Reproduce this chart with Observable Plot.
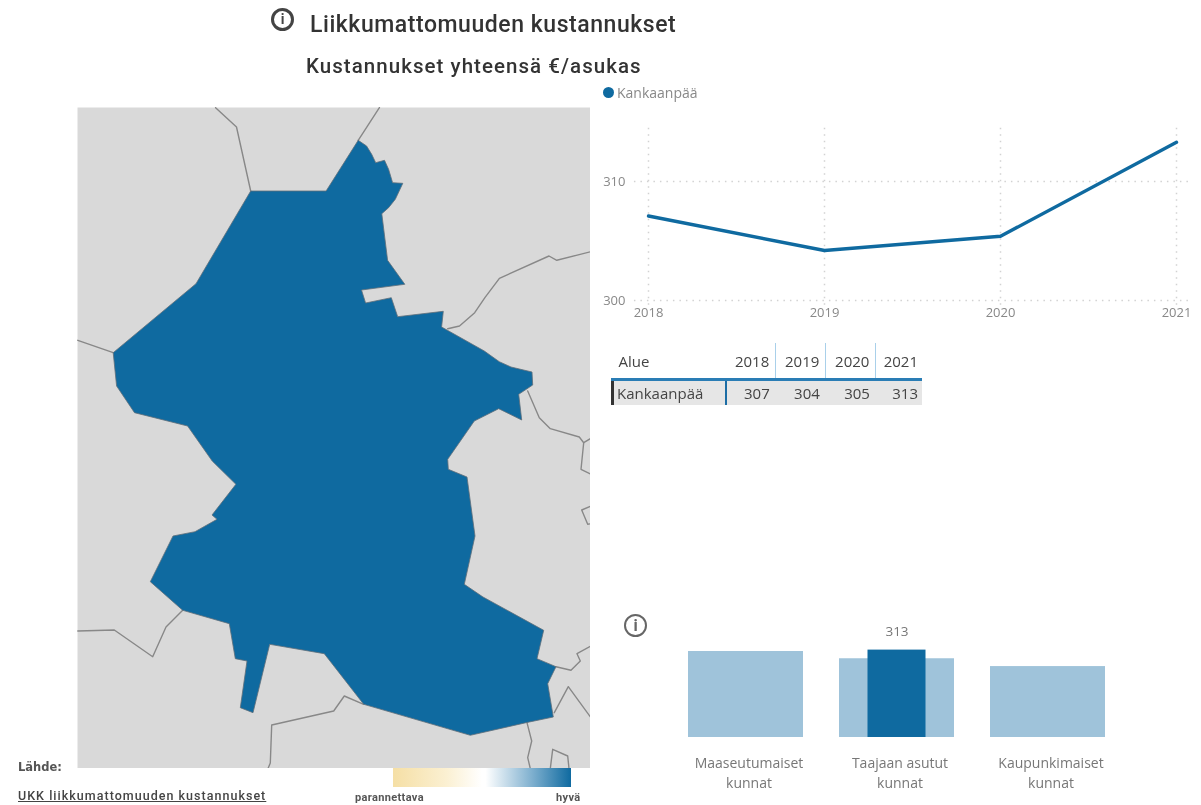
<!DOCTYPE html>
<html lang="fi">
<head>
<meta charset="utf-8">
<script src="https://cdn.jsdelivr.net/npm/d3@7"></script>
<script src="https://cdn.jsdelivr.net/npm/@observablehq/plot@0.6"></script>
<style>
html,body{margin:0;padding:0;background:#fff;overflow:hidden}
#page{position:relative;width:1201px;height:805px;filter:blur(0.75px);font-family:"Open Sans",sans-serif;color:#555}
.abs{position:absolute;white-space:nowrap}
.abs svg{display:block;background:transparent}
.icon{position:absolute;box-sizing:border-box;border-radius:50%;text-align:center;font-family:"Roboto",sans-serif;font-weight:700}
table{position:absolute;left:611px;top:343px;border-collapse:collapse;table-layout:fixed;width:311px;font-size:15px;color:#444}
th,td{font-weight:400;padding:0 6px 0 0;text-align:right;overflow:hidden}
th:last-child,td:last-child{padding-right:4px}
thead th{height:35px;border-bottom:3px solid #2a7db5;border-right:1.5px solid #a9d0ea}
thead th:first-child,thead th:last-child{border-right:none}
thead th:first-child{text-align:left;padding-left:6px}
tbody td{height:24px;background:#e6e6e6}
tbody td:first-child{text-align:left;padding-left:3px;border-left:3px solid #333;border-right:2px solid #1c6da5}
</style>
</head>
<body>
<div id="page">
  <div class="icon" style="left:271px;top:8px;width:23px;height:23px;border:3px solid #444;color:#444;font-size:14px;line-height:17px">i</div>
  <div class="abs" style="left:310px;top:10px;font:500 23px/30px Roboto,sans-serif;letter-spacing:.55px;color:#333" id="title"></div>
  <div class="abs" style="left:306px;top:52px;font:500 20.5px/28px Roboto,sans-serif;letter-spacing:1.05px;color:#333" id="subtitle"></div>
  <div class="abs" id="map" style="left:76.5px;top:106.5px"></div>
  <div class="abs" style="left:602.5px;top:87px;width:11px;height:11px;border-radius:50%;background:#0f6aa0"></div>
  <div class="abs" id="legendName" style="left:617px;top:84px;font-size:14px;line-height:18px;color:#888"></div>
  <div class="abs" id="lines" style="left:600px;top:110px"></div>
  <table id="tbl"></table>
  <div class="icon" style="left:624px;top:614px;width:23px;height:23px;border:2px solid #666;color:#666;font-size:16px;line-height:19px">i</div>
  <div class="abs" id="bars" style="left:640px;top:620px"></div>
  <div class="abs" id="source" style="left:18px;top:759px;font:700 11.5px/16px 'DejaVu Sans',sans-serif;color:#555"></div>
  <a class="abs" id="link" style="left:18px;top:788px;font:500 12.5px/16px Roboto,sans-serif;letter-spacing:1.02px;color:#444;text-decoration:underline"></a>
  <div class="abs" style="left:393px;top:768px;width:178px;height:19px;background:linear-gradient(90deg,#f5dfa5 0%,#fbf0d2 30%,#ffffff 50%,#ffffff 52%,#7fb0cf 78%,#0f6aa0 100%)"></div>
  <div class="abs" id="lowLabel" style="left:355px;top:791px;font:700 11px/14px Roboto,sans-serif;letter-spacing:.35px;color:#555"></div>
  <div class="abs" id="highLabel" style="left:556px;top:791px;font:700 11px/14px Roboto,sans-serif;letter-spacing:.35px;color:#555"></div>
</div>
<script>
// Text
const titleText = "Liikkumattomuuden kustannukset";
const subtitleText = "Kustannukset yhteensä €/asukas";
const areaName = "Kankaanpää";
const sourceText = "Lähde:";
const linkText = "UKK liikkumattomuuden kustannukset";
const scaleLabels = ["parannettava", "hyvä"];

// Yearly series
const years = [2018, 2019, 2020, 2021];
const costs = [307.1, 304.2, 305.4, 313.3];
const costsRounded = [307, 304, 305, 313];

// Municipality-type comparison
const groups = ["Maaseutumaiset\nkunnat", "Taajaan asutut\nkunnat", "Kaupunkimaiset\nkunnat"];
const groupCosts = [308, 282, 254];
const selectedGroup = "Taajaan asutut\nkunnat";
const selectedCost = 313;

// Map geometry, in the map's own units
const municipalityOutline = [[357.2,139.3],[365.6,145],[370.7,153.3],[374.7,161.7],[383.5,159.3],[387.6,168.3],[391.6,181.7],[401.8,182.3],[394.3,198.3],[387.6,206.7],[380.8,212.7],[384.2,240],[386.6,259.3],[403.8,283.3],[360.5,289],[364.6,302],[390.3,296.7],[396.7,315.7],[442.3,310.3],[440.6,326],[483.3,350],[498.3,360.7],[510,366],[531,371],[531.7,384],[517.7,393.3],[520.7,419],[497.7,407.7],[473.3,420],[446.7,458.3],[447.3,468.3],[466,476],[474,535],[463.3,583.3],[482,596],[542.7,629.3],[536,657.7],[555,665.7],[546.7,682.7],[552.3,716],[525,721.7],[469.3,734.3],[362.7,703.3],[323.3,652.7],[268.7,643.3],[252,711.7],[239.3,706.7],[246,660],[234.3,657.7],[228.3,622.7],[181.7,609.3],[149.3,580.7],[172,535],[194,530.7],[216,518.3],[211,514],[234.9,483.3],[211.2,460],[186.6,425],[133.5,411.7],[115.6,385],[112.2,351.7],[195,282.7],[249.7,190],[325.1,190],[357.2,139.3]];
const neighbourBorders = [
  [[214.6,106.7],[235.5,126],[249.7,190]],
  [[378.4,106.7],[357.2,139.3]],
  [[76.8,339.3],[112.2,351.7]],
  [[446.7,327.7],[458.5,325],[473.7,311.7],[483.9,296.7],[498.4,277.3],[548,255],[555.8,259.3],[589.6,250.7]],
  [[526.7,390],[538.3,416.7],[549.3,427.7],[578.3,436],[582.7,441.7],[590,437.3]],
  [[582.7,441.7],[580,468.3],[590,473.3]],
  [[590,505],[580.7,509],[586.7,523.3],[590,522.7]],
  [[181.7,609.3],[165,626],[151.7,655.7],[113.3,629],[76.8,630]],
  [[362.7,703.3],[343.3,695],[332.7,710],[270.7,724],[269.3,762],[266,770]],
  [[526,721.7],[530.7,740],[526.7,756.7],[529.3,767.5]],
  [[549.3,767.5],[551.7,748.3],[566.7,755],[568,767.5]],
  [[553.3,711.7],[567.3,685.7],[590,716.7]],
  [[555,665.7],[570,669.3],[579.3,660],[576,652.7],[590,645]]
];

const BLUE = "#0f6aa0", LIGHT = "#9fc3da", GREY = "#d9d9d9", EDGE = "#888888";
const px = d => d[0], py = d => d[1];

document.getElementById("title").textContent = titleText;
document.getElementById("subtitle").textContent = subtitleText;
document.getElementById("legendName").textContent = areaName;
document.getElementById("source").textContent = sourceText;
document.getElementById("link").textContent = linkText;
document.getElementById("lowLabel").textContent = scaleLabels[0];
document.getElementById("highLabel").textContent = scaleLabels[1];

// Map
document.getElementById("map").append(Plot.plot({
  width: 513.5, height: 661, margin: 0,
  x: {domain: [76.5, 590], axis: null},
  y: {domain: [106.5, 767.5], range: [0, 661], axis: null},
  marks: [
    Plot.frame({fill: GREY, stroke: null}),
    ...neighbourBorders.map(b => Plot.line(b, {x: px, y: py, stroke: EDGE, strokeWidth: 1.4, clip: "frame"})),
    Plot.line(municipalityOutline, {x: px, y: py, fill: BLUE, stroke: "#5f6f7a", strokeWidth: 0.8})
  ]
}));

// Line chart
const series = years.map((year, i) => ({year, cost: costs[i]}));
document.getElementById("lines").append(Plot.plot({
  width: 600, height: 220,
  marginLeft: 48, marginRight: 24, marginTop: 11.5, marginBottom: 30,
  style: {fontFamily: "'Open Sans',sans-serif", fontSize: "13px", color: "#888", background: "transparent"},
  x: {domain: [2018, 2021], label: null},
  y: {domain: [300, 315], label: null},
  marks: [
    Plot.ruleX(years, {y1: 299.6, y2: 314.6, stroke: "#d2d2d2", strokeDasharray: "1.5,5", strokeWidth: 1.5}),
    Plot.ruleY([300, 310], {x1: 2017.92, x2: 2021.07, stroke: "#d2d2d2", strokeDasharray: "1.5,5", strokeWidth: 1.5}),
    Plot.axisX({ticks: years, tickFormat: d => String(d), tickSize: 0, tickPadding: 7, label: null}),
    Plot.axisY({ticks: [300, 310], tickSize: 0, tickPadding: 23, label: null}),
    Plot.line(series, {x: "year", y: "cost", stroke: BLUE, strokeWidth: 3.4})
  ]
}));

// Table
const tbl = d3.select("#tbl");
tbl.append("colgroup").selectAll("col").data([113, 50, 50, 50, 46]).join("col").style("width", d => d + "px");
const head = tbl.append("thead").append("tr");
head.append("th").text("Alue");
years.forEach(y => head.append("th").text(y));
const row = tbl.append("tbody").append("tr");
row.append("td").text(areaName);
costsRounded.forEach(v => row.append("td").text(v));

// Bars
const groupData = groups.map((group, i) => ({group, cost: groupCosts[i]}));
document.getElementById("bars").append(Plot.plot({
  width: 513, height: 185,
  marginLeft: 12, marginRight: 12, marginTop: 29.6, marginBottom: 68,
  style: {fontFamily: "'Open Sans',sans-serif", fontSize: "14px", color: "#777", background: "transparent"},
  x: {domain: groups, padding: 0.238, label: null},
  y: {domain: [0, 313], axis: null},
  marks: [
    Plot.barY(groupData, {x: "group", y: "cost", fill: LIGHT}),
    Plot.barY([{group: selectedGroup, cost: selectedCost}], {x: "group", y: "cost", fill: BLUE, insetLeft: 28.5, insetRight: 28.5}),
    Plot.text([{group: selectedGroup, cost: selectedCost}], {x: "group", y: "cost", text: d => String(d.cost), dy: -18, fontSize: 13.5, fill: "#777"}),
    Plot.axisX({tickSize: 0, tickPadding: 16, lineHeight: 1.45, dx: 3, label: null})
  ]
}));
</script>
</body>
</html>
